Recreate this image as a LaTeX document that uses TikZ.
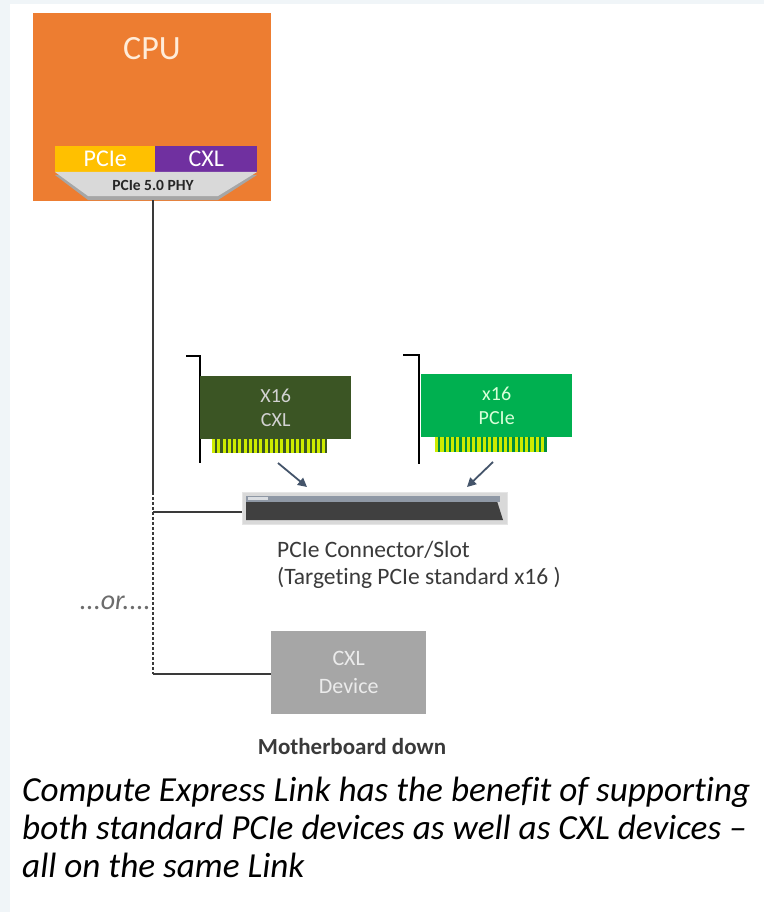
\documentclass[tikz,border=0pt]{standalone}
\usepackage{fontspec}
\setmainfont{Carlito}[Ligatures=NoCommon]
\usetikzlibrary{arrows.meta}

\definecolor{cpuorange}{HTML}{ED7D31}
\definecolor{pcieyellow}{HTML}{FFC000}
\definecolor{cxlpurple}{HTML}{7030A0}
\definecolor{phygray}{HTML}{D9D9D9}
\definecolor{cxlgreen}{HTML}{3B5524}
\definecolor{pciegreen}{HTML}{00B050}
\definecolor{goldfinger}{HTML}{CDEB00}
\definecolor{devgray}{HTML}{A6A6A6}
\definecolor{textgray}{HTML}{3A3A3A}
\definecolor{wiregray}{HTML}{3A3A3A}
\definecolor{arrowblue}{HTML}{44546A}
\definecolor{bgstrip}{HTML}{F0F5F8}

\begin{document}
\begin{tikzpicture}[x=1pt,y=-1pt,
  every node/.style={inner sep=0pt},
  fs/.style={font=\fontsize{#1}{#1}\selectfont},
  box/.style={anchor=north west, minimum width=#1},
  wire/.style={draw=wiregray, line width=1.2pt},
  push/.style={draw=arrowblue, line width=1.8pt, -{Triangle[length=9pt,width=9pt]}},
  bracket/.style={draw=black, line width=1.6pt},
  label/.style={text=textgray, fs=23.5},
  caption/.style={anchor=base west, font=\itshape\fontsize{35.2}{35.2}\selectfont}
]
  \fill[white] (0,0) rectangle (764,912);
  \fill[bgstrip] (0,0) rectangle (10,912);
  \fill[bgstrip] (0,0) rectangle (764,4);
  \useasboundingbox (0,0) rectangle (764,912);

  % cpu with its two protocol blocks and the phy
  \node[box=238pt, minimum height=188pt, fill=cpuorange] (cpu) at (33,13) {};
  \node[fs=34, text=orange!15] (cputxt) at (152,49) {CPU};
  \node[box=100pt, minimum height=26pt, fill=pcieyellow, text=white, fs=24] (pcie) at (55,146) {PCIe};
  \node[box=102pt, minimum height=26pt, fill=cxlpurple, text=white, fs=24] (cxl) at (155,146) {CXL};
  \fill[gray!70] (55,175) -- (257,175) -- (218,200) -- (88,200) -- cycle;
  \fill[phygray] (55,172) -- (257,172) -- (218,196) -- (88,196) -- cycle;
  \node[font=\bfseries\fontsize{15.5}{15.5}\selectfont, text=black!85] (phy) at (153,185) {PCIe 5.0 PHY};

  % add-in cards
  \draw[bracket] (186,356) -- (200,356) -- (200,463);
  \node[box=151pt, minimum height=63pt, fill=cxlgreen, text=gray!35, fs=20, align=center] (cxlcard) at (200,376) {X16\\[4pt]CXL};
  \fill[cxlgreen] (212,439) rectangle (327,453);
  \foreach \i in {0,...,21}
    \fill[goldfinger] (212+\i*5.25,439) rectangle ++(3.2,14);

  \draw[bracket] (403,355) -- (419,355) -- (419,464);
  \node[box=151pt, minimum height=63pt, fill=pciegreen, text=green!15, fs=20, align=center] (pciecard) at (421,374) {x16\\[4pt]PCIe};
  \fill[pciegreen!80!black] (435,437) rectangle (547,452);
  \foreach \i in {0,...,20}
    \fill[goldfinger] (435+\i*5.3,437) rectangle ++(3.2,15);

  % slot
  \node[box=265pt, minimum height=32pt, fill=gray!30, draw=gray!20] (slot) at (242,492) {};
  \fill[black!75] (246,501) -- (497,501) -- (503,520) -- (246,520) -- cycle;
  \fill[arrowblue!60] (246,496) rectangle (500,502);
  \fill[white!80!arrowblue] (248,497) rectangle (268,500);
  \node[label, anchor=west] (slottxt) at (277,550) {PCIe Connector/Slot};
  \node[label, anchor=west] (slottxt2) at (277,578) {(Targeting PCIe standard x16 )};

  \coordinate (cxldrop) at (278,463);
  \coordinate (cxlhit) at (307,487);
  \coordinate (pciedrop) at (493,462);
  \coordinate (pciehit) at (467,487);
  \draw[push] (cxldrop) -- (cxlhit);
  \draw[push] (pciedrop) -- (pciehit);

  % motherboard-down device
  \node[box=155pt, minimum height=83pt, fill=devgray, text=white!92!black, fs=22, align=center] (dev) at (271,631) {CXL\\[6pt]Device};
  \node[label, font=\bfseries\fontsize{23}{23}\selectfont] (devtxt) at (352,747) {Motherboard down};

  % link from the phy
  \coordinate (split) at (153,492);
  \coordinate (toslot) at (153,512);
  \coordinate (todev) at (153,674);
  \draw[wire] (phy.south |- 0,200) -- (split);
  \draw[wire, dash pattern=on 3pt off 2pt] (split) -- (todev);
  \draw[wire] (toslot) -- (slot.west |- toslot);
  \draw[wire] (todev) -- (dev.west |- todev);
  \node[text=gray!85!black, font=\itshape\fontsize{28}{28}\selectfont, anchor=east] (ortxt) at (151,603) {...or....};

  % caption
  \node[caption] (cap1) at (22,801) {Compute Express Link has the benefit of supporting};
  \node[caption] (cap2) at (22,839) {both standard PCIe devices as well as CXL devices –};
  \node[caption] (cap3) at (22,877) {all on the same Link};
\end{tikzpicture}
\end{document}
